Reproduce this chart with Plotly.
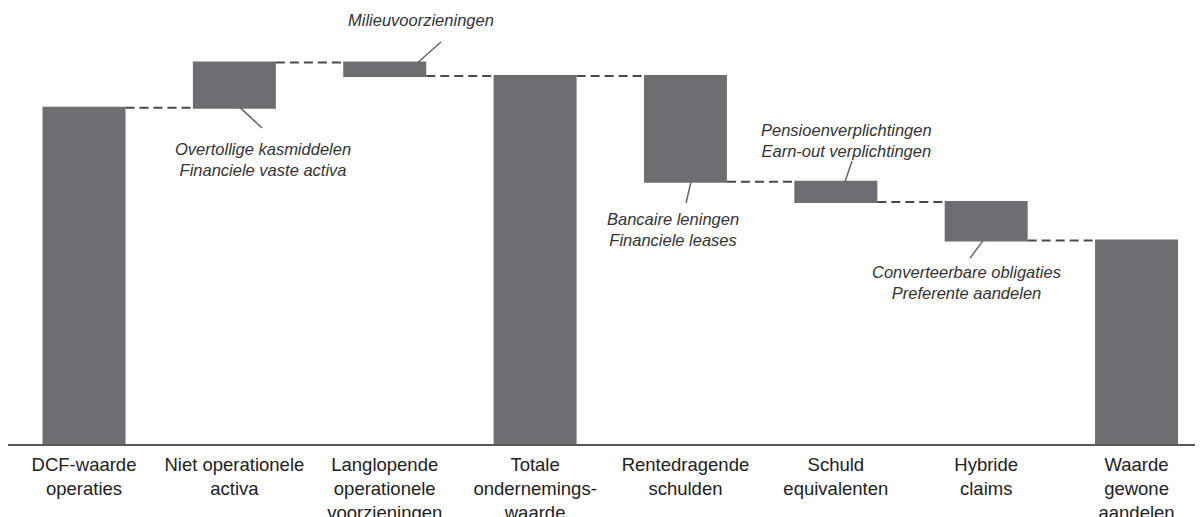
import plotly.graph_objects as go

categories = [
    "DCF-waarde<br>operaties",
    "Niet operationele<br>activa",
    "Langlopende<br>operationele<br>voorzieningen",
    "Totale<br>ondernemings-<br>waarde",
    "Rentedragende<br>schulden",
    "Schuld<br>equivalenten",
    "Hybride<br>claims",
    "Waarde<br>gewone<br>aandelen",
]
values = [100, 13.5, -4, 109.5, -31.5, -6, -11.5, 60.5]
measures = ["absolute", "relative", "relative", "total",
            "relative", "relative", "relative", "total"]

# cumulative levels derived from data
levels = []
run = 0
for v, m in zip(values, measures):
    if m == "absolute":
        run = v
    elif m == "relative":
        run += v
    levels.append(run)

BAR = "#6d6e71"
fig = go.Figure(go.Waterfall(
    x=categories, y=values, measure=measures,
    increasing=dict(marker=dict(color=BAR)),
    decreasing=dict(marker=dict(color=BAR)),
    totals=dict(marker=dict(color=BAR)),
    connector=dict(line=dict(color="#4a4a4a", width=2, dash="9px,5px")),
    hoverinfo="skip",
))

# callouts: (text, bar index, anchor offset x, anchor level, end x, end y, text x, text y)
callouts = [
    ("Overtollige kasmiddelen<br>Financiele vaste activa", 1, 0.04, levels[0], 1.184, 94.0, 1.19, 84.6),
    ("Milieuvoorzieningen", 2, 0.22, levels[1], 2.374, 119.6, 2.24, 126.2),
    ("Bancaire leningen<br>Financiele leases", 4, 0.037, levels[4], 4.004, 71.7, 3.917, 63.8),
    ("Pensioenverplichtingen<br>Earn-out verplichtingen", 5, 0.061, levels[4], 5.108, 84.2, 5.068, 90.2),
    ("Converteerbare obligaties<br>Preferente aandelen", 6, -0.021, levels[6], 5.893, 55.3, 5.866, 47.9),
]
shapes = []
annotations = []
for txt, idx, dx, lvl, ex, ey, tx, ty in callouts:
    shapes.append(dict(type="line", xref="x", yref="y", x0=idx + dx, y0=lvl, x1=ex, y1=ey,
                       line=dict(color="#666666", width=1.5)))
    annotations.append(dict(xref="x", yref="y", x=tx, y=ty, text="<i>" + txt + "</i>",
                            showarrow=False, xanchor="center", yanchor="middle",
                            font=dict(family="Liberation Sans, Arial", size=16.5, color="#333333")))

fig.update_layout(
    width=1195, height=509,
    margin=dict(l=0, r=0, t=0, b=73, autoexpand=False),
    paper_bgcolor="white", plot_bgcolor="white",
    showlegend=False,
    waterfallgap=0.448,
    shapes=shapes,
    annotations=annotations,
    font=dict(family="Liberation Sans, Arial", color="#222222"),
)
fig.update_xaxes(
    type="category", range=[-0.5055, 7.442],
    showline=True, linecolor="#5a5a5a", linewidth=2,
    showgrid=False, ticks="", tickangle=0,
    tickfont=dict(size=18.5, color="#222222"),
    ticklabelstandoff=3,
    automargin=False,
    fixedrange=True,
)
fig.update_yaxes(
    range=[0, 129.7], visible=False, showgrid=False, zeroline=False, fixedrange=True,
    automargin=False,
)

fig.write_html("out.html")
